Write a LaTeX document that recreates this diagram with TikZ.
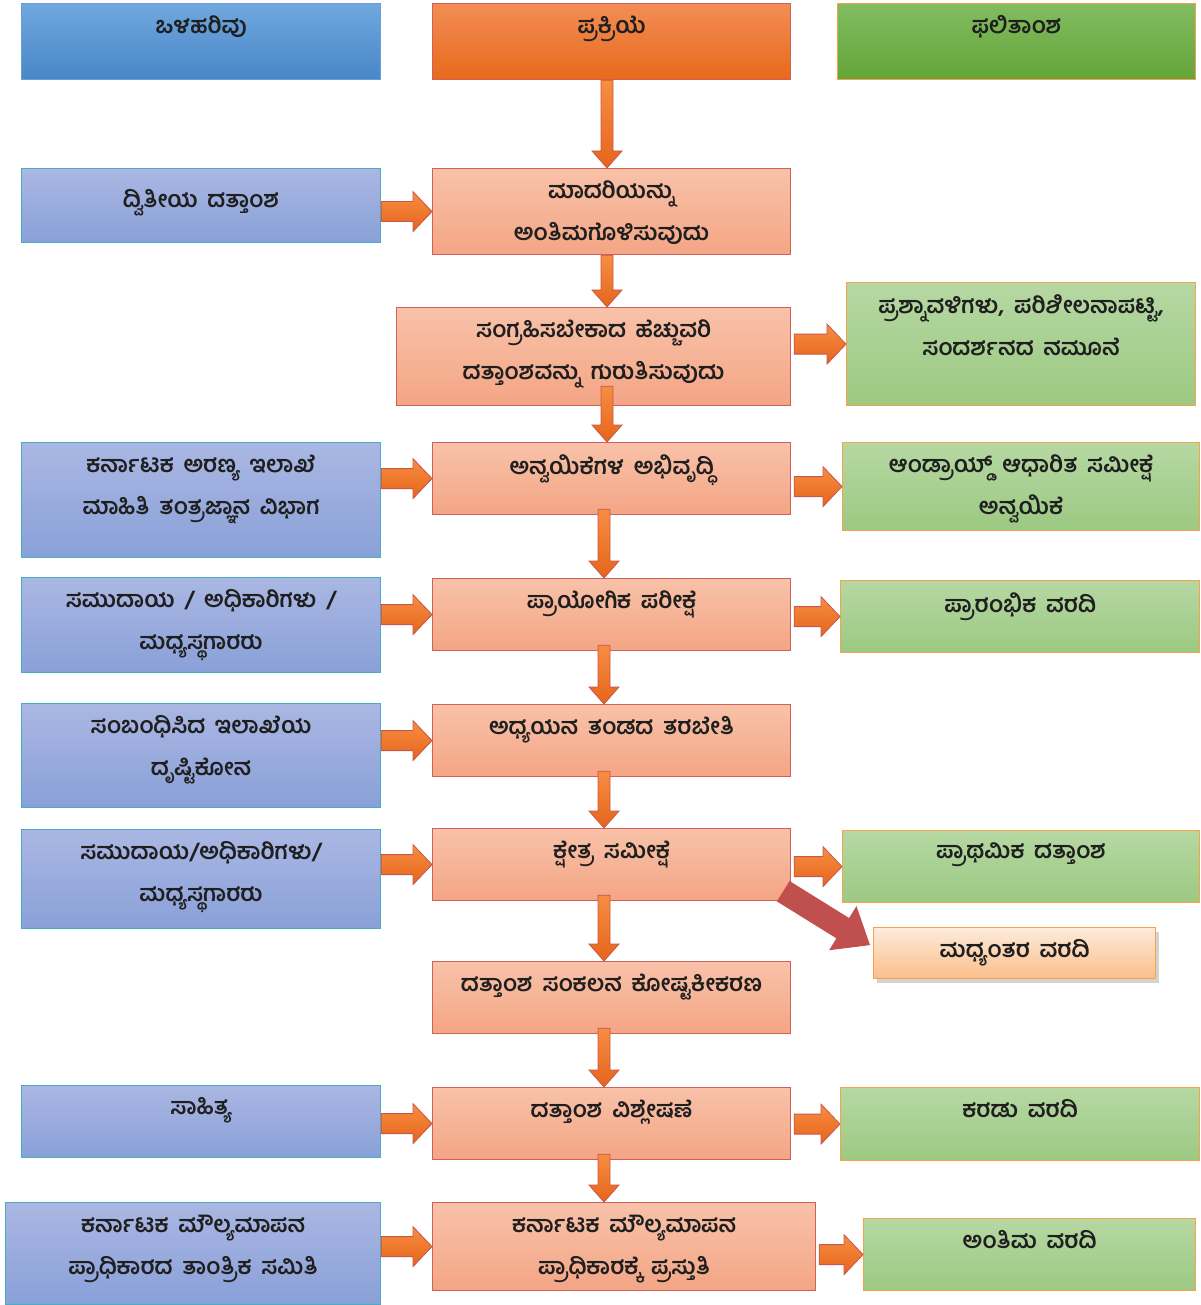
\documentclass[tikz,border=0pt]{standalone}
\usepackage{fontspec}
\setmainfont[Script=Kannada,WordSpace=1.7]{Hind Mysuru}
\usetikzlibrary{calc,shadows}

\definecolor{hinTop}{HTML}{70A8DF}
\definecolor{hinBot}{HTML}{4886C7}
\definecolor{hinLine}{HTML}{6A9FD6}
\definecolor{hprTop}{HTML}{F38D55}
\definecolor{hprBot}{HTML}{E8691B}
\definecolor{houtTop}{HTML}{82BC60}
\definecolor{houtBot}{HTML}{64A539}
\definecolor{inTop}{HTML}{AAB7E3}
\definecolor{inBot}{HTML}{89A0D8}
\definecolor{inLine}{HTML}{4BACC6}
\definecolor{prTop}{HTML}{F8C2A9}
\definecolor{prBot}{HTML}{F4A585}
\definecolor{prLine}{HTML}{D0605A}
\definecolor{outTop}{HTML}{B6D8A3}
\definecolor{outBot}{HTML}{9CC982}
\definecolor{outLine}{HTML}{F7A14E}
\definecolor{midTop}{HTML}{FDEBDC}
\definecolor{midBot}{HTML}{FBBE89}
\definecolor{arTop}{HTML}{F68E42}
\definecolor{arBot}{HTML}{E6641C}
\definecolor{arLine}{HTML}{C8564C}
\definecolor{redArrow}{HTML}{C0504D}

\tikzset{
  box/.style={draw, line width=1.2pt, inner sep=0pt, anchor=north west,
    font=\bfseries\fontsize{23}{42}\selectfont, text=black!88},
  inhead/.style={box, top color=hinTop, bottom color=hinBot, draw=hinLine},
  prhead/.style={box, top color=hprTop, bottom color=hprBot, draw=prLine},
  outhead/.style={box, top color=houtTop, bottom color=houtBot, draw=outLine},
  inbox/.style={box, top color=inTop, bottom color=inBot, draw=inLine},
  prbox/.style={box, top color=prTop, bottom color=prBot, draw=prLine},
  outbox/.style={box, top color=outTop, bottom color=outBot, draw=outLine},
  midbox/.style={box, top color=midTop, bottom color=midBot, draw=outLine,
    drop shadow={shadow xshift=3pt, shadow yshift=-4pt, opacity=0.35}},
  flowarrow/.style={top color=arTop, bottom color=arBot, draw=arLine, line width=0.8pt},
  redarrow/.style={fill=redArrow}
}

% width, height, text (optional: space above the first line)
\newcommand{\cell}[4][12pt]{\parbox[t][#3pt][t]{#2pt}{\centering\vspace*{#1}#4}}

% from, to, half shaft, half head, head length
\newcommand{\blockarrow}[6][flowarrow]{%
  \path[#1] let \p1=#2, \p2=#3, \n1={atan2(\y2-\y1,\x2-\x1)},
    \n2={veclen(\x2-\x1,\y2-\y1)-#6} in
    (\p1) ++(\n1-90:#4) -- ++(\n1:\n2) -- ++(\n1-90:#5-#4) -- (\p2)
    -- ($(\p1)+(\n1:\n2)+(\n1+90:#5)$) -- ++(\n1-90:#5-#4)
    -- ($(\p1)+(\n1+90:#4)$) -- cycle;}

\begin{document}
\begin{tikzpicture}[x=1pt,y=-1pt]
\useasboundingbox (0,0) rectangle (1200,1305);

\coordinate (axis) at (607,0);

% headers
\node[inhead] (hin) at (21,3) {\cell{359}{76}{ಒಳಹರಿವು}};
\node[prhead] (hpr) at (432,3) {\cell{358}{76}{ಪ್ರಕ್ರಿಯೆ}};
\node[outhead] (hout) at (837,3) {\cell{358}{76}{ಫಲಿತಾಂಶ}};

% inputs
\node[inbox] (in1) at (21,168) {\cell[21pt]{359}{74}{ದ್ವಿತೀಯ ದತ್ತಾಂಶ}};
\node[inbox] (in2) at (21,442) {\cell{359}{115}{ಕರ್ನಾಟಕ ಅರಣ್ಯ ಇಲಾಖೆ\\ ಮಾಹಿತಿ ತಂತ್ರಜ್ಞಾನ ವಿಭಾಗ}};
\node[inbox] (in3) at (21,577) {\cell{359}{95}{ಸಮುದಾಯ / ಅಧಿಕಾರಿಗಳು /\\ ಮಧ್ಯಸ್ಥಗಾರರು}};
\node[inbox] (in4) at (21,703) {\cell{359}{104}{ಸಂಬಂಧಿಸಿದ ಇಲಾಖೆಯ\\ ದೃಷ್ಟಿಕೋನ}};
\node[inbox] (in5) at (21,829) {\cell{359}{99}{ಸಮುದಾಯ/ಅಧಿಕಾರಿಗಳು/\\ ಮಧ್ಯಸ್ಥಗಾರರು}};
\node[inbox] (in6) at (21,1085) {\cell{359}{72}{ಸಾಹಿತ್ಯ}};
\node[inbox] (in7) at (5,1202) {\cell{375}{102}{ಕರ್ನಾಟಕ ಮೌಲ್ಯಮಾಪನ\\ ಪ್ರಾಧಿಕಾರದ ತಾಂತ್ರಿಕ ಸಮಿತಿ}};

% process
\node[prbox] (p1) at (432,168) {\cell{358}{86}{ಮಾದರಿಯನ್ನು\\ ಅಂತಿಮಗೊಳಿಸುವುದು}};
\node[prbox] (p2) at (396,307) {\cell{394}{98}{ಸಂಗ್ರಹಿಸಬೇಕಾದ ಹೆಚ್ಚುವರಿ\\ ದತ್ತಾಂಶವನ್ನು ಗುರುತಿಸುವುದು}};
\node[prbox] (p3) at (432,442) {\cell{358}{72}{ಅನ್ವಯಿಕೆಗಳ ಅಭಿವೃದ್ಧಿ}};
\node[prbox] (p4) at (432,578) {\cell{358}{72}{ಪ್ರಾಯೋಗಿಕ ಪರೀಕ್ಷೆ}};
\node[prbox] (p5) at (432,704) {\cell{358}{72}{ಅಧ್ಯಯನ ತಂಡದ ತರಬೇತಿ}};
\node[prbox] (p6) at (432,828) {\cell{358}{72}{ಕ್ಷೇತ್ರ ಸಮೀಕ್ಷೆ}};
\node[prbox] (p7) at (432,961) {\cell{358}{72}{ದತ್ತಾಂಶ ಸಂಕಲನ ಕೋಷ್ಟಕೀಕರಣ}};
\node[prbox] (p8) at (432,1087) {\cell{358}{72}{ದತ್ತಾಂಶ ವಿಶ್ಲೇಷಣೆ}};
\node[prbox] (p9) at (432,1202) {\cell{383}{88}{ಕರ್ನಾಟಕ ಮೌಲ್ಯಮಾಪನ\\ ಪ್ರಾಧಿಕಾರಕ್ಕೆ ಪ್ರಸ್ತುತಿ}};

% outputs
\node[outbox] (o1) at (846,282) {\cell{349}{123}{ಪ್ರಶ್ನಾವಳಿಗಳು, ಪರಿಶೀಲನಾಪಟ್ಟಿ,\\ ಸಂದರ್ಶನದ ನಮೂನೆ}};
\node[outbox] (o2) at (842,442) {\cell{357}{88}{ಆಂಡ್ರಾಯ್ಡ್ ಆಧಾರಿತ ಸಮೀಕ್ಷೆ\\ ಅನ್ವಯಿಕೆ}};
\node[outbox] (o3) at (840,580) {\cell{359}{72}{ಪ್ರಾರಂಭಿಕ ವರದಿ}};
\node[outbox] (o4) at (842,830) {\cell{357}{72}{ಪ್ರಾಥಮಿಕ ದತ್ತಾಂಶ}};
\node[midbox] (mid) at (873,927) {\cell{282}{51}{ಮಧ್ಯಂತರ ವರದಿ}};
\node[outbox] (o6) at (840,1087) {\cell{359}{73}{ಕರಡು ವರದಿ}};
\node[outbox] (o7) at (863,1218) {\cell{332}{72}{ಅಂತಿಮ ವರದಿ}};

% down the process column
\blockarrow{(hpr.south -| axis)}{(p1.north -| axis)}{6pt}{15pt}{17pt}
\blockarrow{(p1.south -| axis)}{(p2.north -| axis)}{6pt}{15pt}{17pt}
\blockarrow{($(p2.south -| axis)+(0,-20)$)}{(p3.north -| axis)}{6pt}{15pt}{17pt}
\foreach \a/\b in {p3/p4,p4/p5,p5/p6,p6/p7,p7/p8,p8/p9}
  \blockarrow{($(\a.south -| axis)+(-3,-6)$)}{($(\b.north -| axis)+(-3,0)$)}{6pt}{15pt}{17pt};

% inputs into the process
\foreach \a/\b in {in1/p1,in2/p3,in3/p4,in4/p5,in5/p6,in6/p8,in7/p9}
  \blockarrow{(\b.west -| \a.east)}{(\b.west)}{10pt}{20pt}{19pt};

% process to outputs
\foreach \a/\b in {p2/o1,p3/o2,p4/o3,p6/o4,p8/o6,p9/o7}
  \blockarrow{($(\b.west -| \a.east)+(3,0)$)}{(\b.west)}{10pt}{20pt}{19pt};

\blockarrow[redarrow]{($(p6.south east)+(-8,-10)$)}{($(mid.west)+(-3,-8)$)}{12pt}{26pt}{32pt}

\end{tikzpicture}
\end{document}
